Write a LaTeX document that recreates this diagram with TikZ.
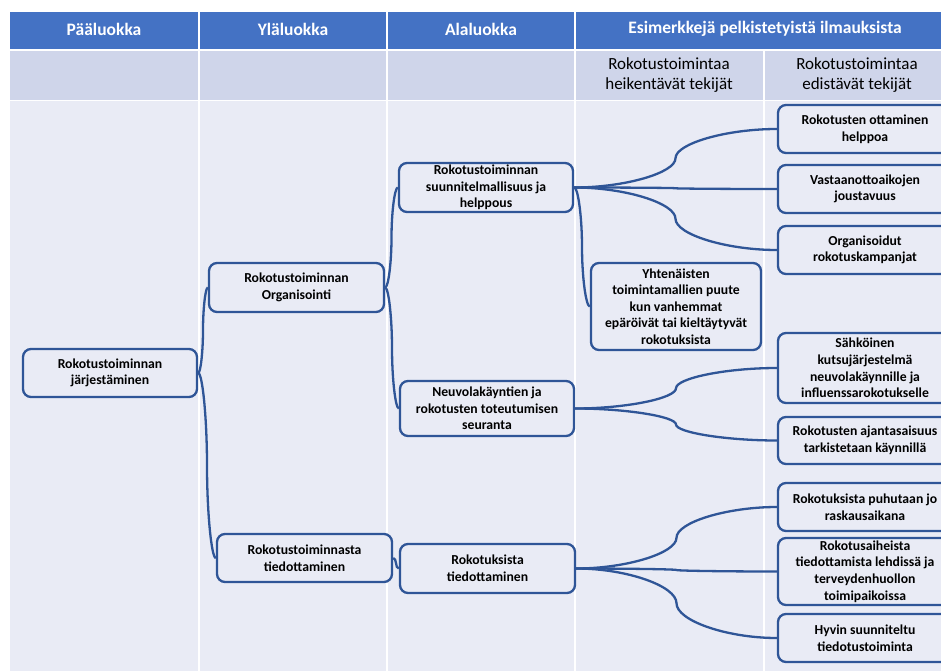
\documentclass[tikz,border=0pt]{standalone}
\usepackage{fontspec}
\setmainfont{Carlito}
\usetikzlibrary{calc}
\definecolor{hdr}{HTML}{4472C4}
\definecolor{rowtwo}{HTML}{CFD5EA}
\definecolor{bodyc}{HTML}{E9EBF5}
\definecolor{lnc}{HTML}{2F5597}
\begin{document}
\begin{tikzpicture}[x=1pt,y=-1pt,
  box/.style={draw=lnc, line width=2.3pt, rounded corners=8pt, fill=bodyc, align=center, inner sep=0pt,
    font=\bfseries\fontsize{13.7}{16.6}\selectfont, minimum width=174pt},
  hdrtext/.style={text=white, font=\bfseries\fontsize{17.5}{20}\selectfont, align=center},
  subtext/.style={text=black, font=\fontsize{17}{20.5}\selectfont, align=center},
  conn/.style={draw=lnc, line width=2.3pt, to path={let \p1=(\tikztostart), \p2=(\tikztotarget) in
    .. controls ({\x1+0.25*(\x2-\x1)},\y1) and ({\x1+0.5*(\x2-\x1)},{\y1+0.25*(\y2-\y1)}) ..
    ({\x1+0.5*(\x2-\x1)},{\y1+0.5*(\y2-\y1)})
    .. controls ({\x1+0.5*(\x2-\x1)},{\y1+0.75*(\y2-\y1)}) and ({\x1+0.75*(\x2-\x1)},\y2) .. (\p2) \tikztonodes}}
]
\useasboundingbox (0,0) rectangle (941,671);
\clip (0,0) rectangle (941,671);
\fill[white] (0,0) rectangle (941,671);
% table bands
\fill[hdr] (10,12) rectangle (960,49);
\fill[rowtwo] (10,51) rectangle (960,100);
\fill[bodyc] (10,101.5) rectangle (960,671);
\draw[white, line width=2pt] (199,12) -- (199,671) (387,12) -- (387,671) (575,12) -- (575,671) (764,50) -- (764,671);
% header texts
\node[hdrtext] (h1) at (104,29) {Pääluokka};
\node[hdrtext] (h2) at (293,29) {Yläluokka};
\node[hdrtext] (h3) at (481,29) {Alaluokka};
\node[hdrtext] (h4) at (765,29) {Esimerkkejä pelkistetyistä ilmauksista};
\node[subtext] (s1) at (669,75) {Rokotustoimintaa\\heikentävät tekijät};
\node[subtext] (s2) at (857,75) {Rokotustoimintaa\\edistävät tekijät};
% boxes
\node[box, minimum height=48pt] (A) at (110,373) {Rokotustoiminnan\\järjestäminen};
\node[box, minimum width=175pt, minimum height=49pt] (B) at (296.5,287.5) {Rokotustoiminnan\\Organisointi};
\node[box, minimum width=175pt, minimum height=48pt] (C) at (304.5,558) {Rokotustoiminnasta\\tiedottaminen};
\node[box, minimum height=49pt] (D) at (486,187.5) {Rokotustoiminnan\\suunnitelmallisuus ja\\helppous};
\node[box, minimum height=55pt] (E) at (487,408.5) {Neuvolakäyntien ja\\rokotusten toteutumisen\\seuranta};
\node[box, minimum width=170pt, minimum height=87pt] (F) at (676,306.5) {Yhtenäisten\\toimintamallien puute\\kun vanhemmat\\epäröivät tai kieltäytyvät\\rokotuksista};
\node[box, minimum width=175pt, minimum height=49pt] (G) at (487.5,568.5) {Rokotuksista\\tiedottaminen};
\node[box, minimum height=48pt] (R1) at (865,129) {Rokotusten ottaminen\\helppoa};
\node[box, minimum height=48pt] (R2) at (865,189) {Vastaanottoaikojen\\joustavuus};
\node[box, minimum height=48pt] (R3) at (865,250) {Organisoidut\\rokotuskampanjat};
\node[box, minimum height=70pt] (R4) at (865,368) {Sähköinen\\kutsujärjestelmä\\neuvolakäynnille ja\\influenssarokotukselle};
\node[box, minimum height=47pt] (R5) at (865,440.5) {Rokotusten ajantasaisuus\\tarkistetaan käynnillä};
\node[box, minimum height=48pt] (R6) at (865,507) {Rokotuksista puhutaan jo\\raskausaikana};
\node[box, minimum height=67pt] (R7) at (865,571.5) {Rokotusaiheista\\tiedottamista lehdissä ja\\terveydenhuollon\\toimipaikoissa};
\node[box, minimum height=48pt] (R8) at (865,638) {Hyvin suunniteltu\\tiedotustoiminta};
% connectors
\draw[conn] (A.east) to (B.west);
\draw[conn] (A.east) to (C.west);
\draw[conn] (B.east) to (D.west);
\draw[conn] (B.east) to (E.west);
\draw[conn] (C.east) to (G.west);
\draw[conn] (D.east) to (R1.west);
\draw[conn] (D.east) to (R2.west);
\draw[conn] (D.east) to (R3.west);
\draw[conn] (D.east) to (F.west);
\draw[conn] (E.east) to (R4.west);
\draw[conn] (E.east) to (R5.west);
\draw[conn] (G.east) to (R6.west);
\draw[conn] (G.east) to (R7.west);
\draw[conn] (G.east) to (R8.west);
\end{tikzpicture}
\end{document}
